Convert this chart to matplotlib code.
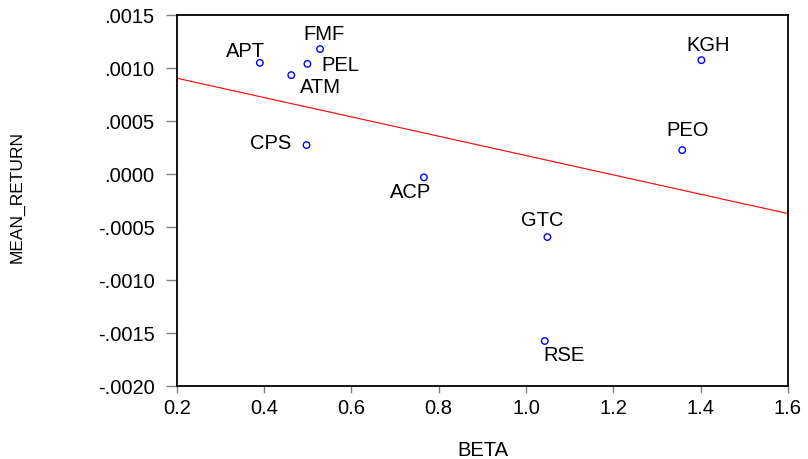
"""
Scatter of mean return against beta with fitted line
"""

import numpy as np
import matplotlib
matplotlib.use("Agg")
import matplotlib.pyplot as plt
from matplotlib.ticker import FuncFormatter, MultipleLocator

# data
tickers = ["APT", "FMF", "PEL", "ATM", "CPS", "ACP", "KGH", "PEO", "GTC", "RSE"]
beta = [0.390, 0.528, 0.499, 0.462, 0.497, 0.766, 1.402, 1.358, 1.049, 1.043]
mean_return = [0.00105, 0.00118, 0.00104, 0.000934, 0.000274,
               -0.000031, 0.001075, 0.000226, -0.000594, -0.001575]

# label offsets in pixels (dx, dy) and alignment
label_pos = {
    "APT": (-14, 11, "center"),
    "FMF": (4, 15, "center"),
    "PEL": (14, -2, "left"),
    "ATM": (9, -12, "left"),
    "CPS": (-15, 2, "right"),
    "ACP": (-13, -15, "center"),
    "KGH": (7, 15, "center"),
    "PEO": (5, 20, "center"),
    "GTC": (-5, 17, "center"),
    "RSE": (19, -15, "center"),
}

FS = 14.5


def fmt_y(v, pos):
    return f"{v:.4f}".replace("0.", ".", 1)


def main():
    plt.rcParams['font.family'] = ['Liberation Sans', 'DejaVu Sans']
    fig = plt.figure(figsize=(8.08, 4.59), dpi=100)
    ax = fig.add_axes([0.219, 0.159, 0.756, 0.808])

    ax.scatter(beta, mean_return, s=22, facecolors='none',
               edgecolors='blue', linewidths=1.0, zorder=3)

    slope, icpt = np.polyfit(beta, mean_return, 1)
    xs = np.array([0.2, 1.6])
    ax.plot(xs, icpt + slope * xs, color='red', lw=0.8)

    for name, x, y in zip(tickers, beta, mean_return):
        dx, dy, ha = label_pos[name]
        ax.annotate(name, (x, y), xytext=(dx, dy), textcoords='offset pixels',
                    ha=ha, va='center', fontsize=FS)

    ax.set_xlim(0.2, 1.6)
    ax.set_ylim(-0.0020, 0.0015)
    ax.xaxis.set_major_locator(MultipleLocator(0.2))
    ax.yaxis.set_major_locator(MultipleLocator(0.0005))
    ax.xaxis.set_major_formatter(FuncFormatter(lambda v, p: f"{v:.1f}"))
    ax.yaxis.set_major_formatter(FuncFormatter(fmt_y))
    ax.tick_params(axis='y', length=8, width=1, pad=8, labelsize=FS,
                   color='gray')
    ax.tick_params(axis='x', length=5, width=1, pad=4, labelsize=FS,
                   color='gray')
    for sp in ax.spines.values():
        sp.set_linewidth(1.3)

    ax.set_xlabel('BETA', fontsize=FS, va='top')
    ax.xaxis.set_label_coords(0.5, -0.147)
    ax.set_ylabel('MEAN_RETURN', fontsize=12.5)
    ax.yaxis.set_label_coords(-0.249, 0.51)

    fig.savefig('out.png', dpi=100)


if __name__ == "__main__":
    main()
